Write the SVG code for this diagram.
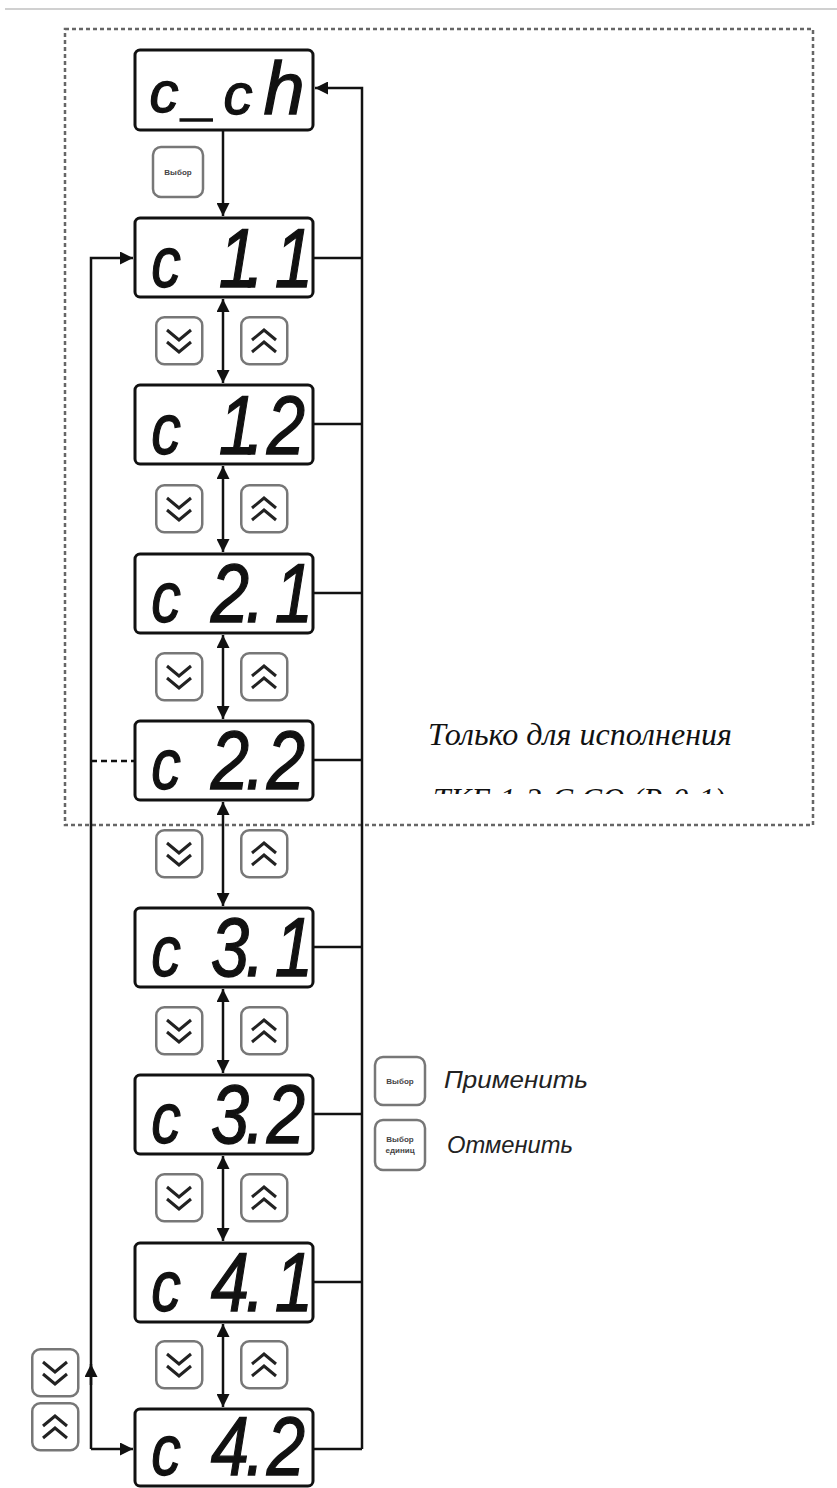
<svg xmlns="http://www.w3.org/2000/svg" width="837" height="1488" viewBox="0 0 837 1488">
<style>
.box{fill:#fff;stroke:#111;stroke-width:3}
.seg{font-family:"Liberation Sans",Arial,sans-serif;font-style:italic;fill:#111;stroke:#111;stroke-width:1.3;text-anchor:middle}
.sc{font-size:72px}
.sd{font-size:84px}
.ln{fill:none;stroke:#111;stroke-width:2.5}
.btn{fill:#fff;stroke:#777;stroke-width:2.5}
.chev{fill:none;stroke:#222;stroke-width:3}
.tiny{font-family:"Liberation Sans",Arial,sans-serif;font-weight:bold;font-size:8px;fill:#444;text-anchor:middle}
.leg{font-family:"Liberation Sans",Arial,sans-serif;font-style:italic;font-size:23px;fill:#222}
.note{font-family:"Liberation Serif","Times New Roman",serif;font-style:italic;font-size:31px;fill:#111}
</style>
<defs>
<marker id="ah" viewBox="0 0 10 10" refX="10" refY="5" markerWidth="13" markerHeight="13" markerUnits="userSpaceOnUse" orient="auto-start-reverse"><path d="M0,0 L10,5 L0,10 z" fill="#111"/></marker>
<g id="bDown"><rect class="btn" x="1.25" y="1.25" width="46" height="47" rx="8"/><polyline class="chev" points="12,14 24,24 36,14"/><polyline class="chev" points="12,26 24,36 36,26"/></g>
<g id="bUp"><rect class="btn" x="1.25" y="1.25" width="46" height="47" rx="8"/><polyline class="chev" points="12,24 24,14 36,24"/><polyline class="chev" points="12,36 24,26 36,36"/></g>
<clipPath id="cut"><rect x="420" y="787" width="330" height="7"/></clipPath>
</defs>
<rect width="837" height="1488" fill="#fff"/>
<line x1="5" y1="9" x2="837" y2="9" stroke="#d0d0d0" stroke-width="2"/>
<rect x="65" y="29" width="748" height="796" fill="none" stroke="#666" stroke-width="2.5" stroke-dasharray="4 3"/>

<g id="connectors">
<line class="ln" x1="223" y1="130" x2="223" y2="216" marker-end="url(#ah)"/>
<line class="ln" x1="223" y1="299" x2="223" y2="383" marker-start="url(#ah)" marker-end="url(#ah)"/>
<line class="ln" x1="223" y1="466" x2="223" y2="552" marker-start="url(#ah)" marker-end="url(#ah)"/>
<line class="ln" x1="223" y1="635" x2="223" y2="719" marker-start="url(#ah)" marker-end="url(#ah)"/>
<line class="ln" x1="223" y1="802" x2="223" y2="906" marker-start="url(#ah)" marker-end="url(#ah)"/>
<line class="ln" x1="223" y1="989" x2="223" y2="1073" marker-start="url(#ah)" marker-end="url(#ah)"/>
<line class="ln" x1="223" y1="1156" x2="223" y2="1241" marker-start="url(#ah)" marker-end="url(#ah)"/>
<line class="ln" x1="223" y1="1324" x2="223" y2="1407" marker-start="url(#ah)" marker-end="url(#ah)"/>
<path class="ln" d="M362,1449 L362,88 L315,88" marker-end="url(#ah)"/>
<path class="ln" d="M313,1449 H362 M313,1282 H362 M313,1114 H362 M313,947 H362 M313,760 H362 M313,593 H362 M313,424 H362 M313,258 H362"/>
<path class="ln" d="M91,1449 L91,258 L133,258" marker-end="url(#ah)"/>
<path class="ln" d="M91,1449 L133,1449" marker-end="url(#ah)"/>
<line class="ln" x1="91" y1="1385" x2="91" y2="1364" marker-end="url(#ah)"/>
<line x1="91" y1="761" x2="135" y2="761" stroke="#111" stroke-width="2.5" stroke-dasharray="6 4"/>
</g>

<g id="n-cch"><rect class="box" x="135" y="50" width="178" height="80" rx="5"/>
<text class="seg" y="112"><tspan x="164" style="font-size:58px">c</tspan><tspan x="200" y="114" style="font-size:56px">_</tspan><tspan x="238" style="font-size:58px">c</tspan><tspan x="284" style="font-size:74px">h</tspan></text></g>

<g id="n-c11"><rect class="box" x="135" y="218" width="178" height="79" rx="5"/>
<text class="seg" transform="scale(0.82,1)" y="287"><tspan class="sc" x="202.4">c</tspan><tspan x="237.8"> </tspan><tspan class="sd" x="290.2">1</tspan><tspan class="sd" x="311">.</tspan><tspan class="sd" x="358.5">1</tspan></text></g>

<g id="n-c12"><rect class="box" x="135" y="385" width="178" height="79" rx="5"/>
<text class="seg" transform="scale(0.82,1)" y="454"><tspan class="sc" x="202.4">c</tspan><tspan x="237.8"> </tspan><tspan class="sd" x="290.2">1</tspan><tspan class="sd" x="311">.</tspan><tspan class="sd" x="348.8">2</tspan></text></g>

<g id="n-c21"><rect class="box" x="135" y="554" width="178" height="79" rx="5"/>
<text class="seg" transform="scale(0.82,1)" y="622"><tspan class="sc" x="202.4">c</tspan><tspan x="237.8"> </tspan><tspan class="sd" x="280.5">2</tspan><tspan class="sd" x="311">.</tspan><tspan class="sd" x="358.5">1</tspan></text></g>

<g id="n-c22"><rect class="box" x="135" y="721" width="178" height="79" rx="5"/>
<text class="seg" transform="scale(0.82,1)" y="789"><tspan class="sc" x="202.4">c</tspan><tspan x="237.8"> </tspan><tspan class="sd" x="280.5">2</tspan><tspan class="sd" x="311">.</tspan><tspan class="sd" x="348.8">2</tspan></text></g>

<g id="n-c31"><rect class="box" x="135" y="908" width="178" height="79" rx="5"/>
<text class="seg" transform="scale(0.82,1)" y="976"><tspan class="sc" x="202.4">c</tspan><tspan x="237.8"> </tspan><tspan class="sd" x="280.5">3</tspan><tspan class="sd" x="311">.</tspan><tspan class="sd" x="358.5">1</tspan></text></g>

<g id="n-c32"><rect class="box" x="135" y="1075" width="178" height="79" rx="5"/>
<text class="seg" transform="scale(0.82,1)" y="1143"><tspan class="sc" x="202.4">c</tspan><tspan x="237.8"> </tspan><tspan class="sd" x="280.5">3</tspan><tspan class="sd" x="311">.</tspan><tspan class="sd" x="348.8">2</tspan></text></g>

<g id="n-c41"><rect class="box" x="135" y="1243" width="178" height="79" rx="5"/>
<text class="seg" transform="scale(0.82,1)" y="1311"><tspan class="sc" x="202.4">c</tspan><tspan x="237.8"> </tspan><tspan class="sd" x="280.5">4</tspan><tspan class="sd" x="311">.</tspan><tspan class="sd" x="358.5">1</tspan></text></g>

<g id="n-c42"><rect class="box" x="135" y="1409" width="178" height="77" rx="5"/>
<text class="seg" transform="scale(0.82,1)" y="1475"><tspan class="sc" x="202.4">c</tspan><tspan x="237.8"> </tspan><tspan class="sd" x="280.5">4</tspan><tspan class="sd" x="311">.</tspan><tspan class="sd" x="348.8">2</tspan></text></g>

<g id="btn-select"><rect class="btn" x="153" y="147" width="50" height="50" rx="8"/><text class="tiny" x="178" y="175">Выбор</text></g>

<g id="buttons">
<use href="#bDown" x="155" y="316"/><use href="#bUp" x="240" y="316"/>
<use href="#bDown" x="155" y="484"/><use href="#bUp" x="240" y="484"/>
<use href="#bDown" x="155" y="652"/><use href="#bUp" x="240" y="652"/>
<use href="#bDown" x="155" y="829"/><use href="#bUp" x="240" y="829"/>
<use href="#bDown" x="155" y="1006"/><use href="#bUp" x="240" y="1006"/>
<use href="#bDown" x="155" y="1173"/><use href="#bUp" x="240" y="1173"/>
<use href="#bDown" x="155" y="1340"/><use href="#bUp" x="240" y="1340"/>
<use href="#bDown" x="31" y="1348"/><use href="#bUp" x="31" y="1402"/>
</g>

<g id="note">
<text class="note" x="428" y="745" textLength="304" lengthAdjust="spacingAndGlyphs">Только для исполнения</text>
<text class="note" x="433" y="810" clip-path="url(#cut)" textLength="292" lengthAdjust="spacingAndGlyphs">ТКГ-1-3-С.СО (Р-0-1)</text>
</g>

<g id="legend">
<rect class="btn" x="375" y="1057" width="50" height="48" rx="8"/><text class="tiny" x="400" y="1084">Выбор</text>
<text class="leg" x="444" y="1088" textLength="144" lengthAdjust="spacingAndGlyphs">Применить</text>
<rect class="btn" x="375" y="1120" width="50" height="50" rx="8"/><text class="tiny" x="400" y="1142">Выбор</text><text class="tiny" x="400" y="1153">единиц</text>
<text class="leg" x="447" y="1153" textLength="126" lengthAdjust="spacingAndGlyphs">Отменить</text>
</g>
</svg>
